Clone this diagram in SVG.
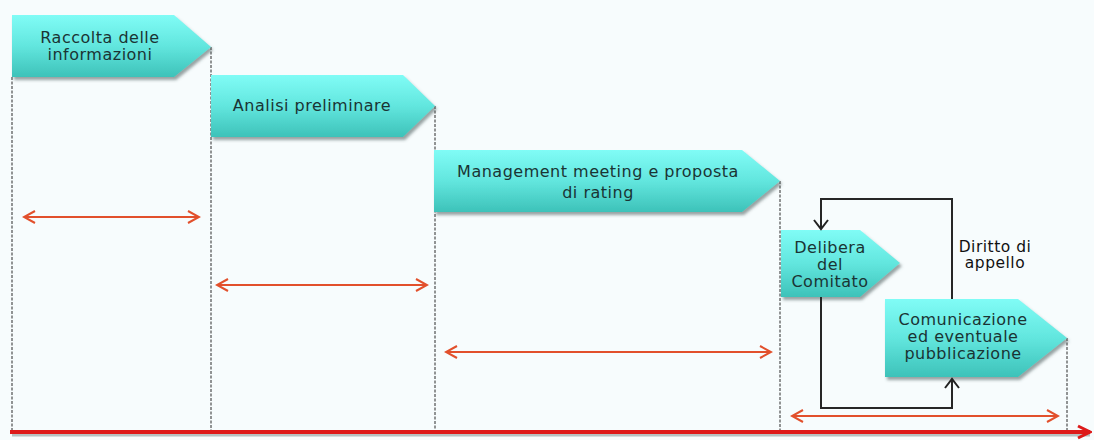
<svg xmlns="http://www.w3.org/2000/svg" width="1094" height="440" viewBox="0 0 1094 440">
<defs>
<linearGradient id="tq" x1="0" y1="0" x2="0" y2="1">
<stop offset="0" stop-color="#80fcf6"/>
<stop offset="0.5" stop-color="#62e6de"/>
<stop offset="1" stop-color="#3dc2b9"/>
</linearGradient>
<filter id="sh" x="-5%" y="-10%" width="115%" height="130%">
<feDropShadow dx="2" dy="3" stdDeviation="1.5" flood-color="#4a5a5a" flood-opacity="0.55"/>
</filter>
<marker id="ra" viewBox="0 0 14 14" refX="12" refY="7" markerWidth="14" markerHeight="14" markerUnits="userSpaceOnUse" orient="auto-start-reverse">
<path d="M1 1 L12 7 L1 13" fill="none" stroke="#e2502c" stroke-width="2"/>
</marker>
<marker id="ka" viewBox="0 0 12 16" refX="10" refY="8" markerWidth="12" markerHeight="16" markerUnits="userSpaceOnUse" orient="auto">
<path d="M1 1 L10 8 L1 15" fill="none" stroke="#222" stroke-width="2"/>
</marker>
<marker id="ax" viewBox="0 0 16 16" refX="14" refY="8" markerWidth="16" markerHeight="16" markerUnits="userSpaceOnUse" orient="auto">
<path d="M2 2 L14 8 L2 14" fill="none" stroke="#dd1a1a" stroke-width="3"/>
</marker>
</defs>
<style>
.box{fill:url(#tq);filter:url(#sh)}
.t{font-family:"DejaVu Sans",Verdana,sans-serif;font-size:16px;fill:#1a3434;text-anchor:middle;letter-spacing:0.5px}
.lbl{font-family:"DejaVu Sans",Verdana,sans-serif;font-size:15.5px;fill:#111;text-anchor:middle;letter-spacing:0.5px}
.dash{stroke:#2a2a2a;stroke-width:1;stroke-dasharray:3 1.5;fill:none}
.span{stroke:#e2502c;stroke-width:2;fill:none;marker-start:url(#ra);marker-end:url(#ra)}
.loop{stroke:#262626;stroke-width:2;fill:none;marker-end:url(#ka)}
</style>
<rect width="1094" height="440" fill="#f7fcfd"/>

<g id="guides">
<line class="dash" x1="12" y1="77" x2="12" y2="432"/>
<line class="dash" x1="211" y1="47" x2="211" y2="432"/>
<line class="dash" x1="435" y1="106" x2="435" y2="432"/>
<line class="dash" x1="780" y1="181" x2="780" y2="432"/>
<line class="dash" x1="1067" y1="338" x2="1067" y2="432"/>
</g>

<g id="axis">
<line x1="12" y1="435" x2="1090" y2="435" stroke="#8a9a9a" stroke-width="3" opacity="0.6"/>
<line x1="10" y1="432" x2="1090" y2="432" stroke="#dd1a1a" stroke-width="4" marker-end="url(#ax)"/>
</g>

<g id="node-raccolta">
<path class="box" d="M12 15 H174 L211 47 L174 77 H12 Z"/>
<text class="t" x="100" y="43">Raccolta delle</text>
<text class="t" x="100" y="60">informazioni</text>
</g>

<g id="node-analisi">
<path class="box" d="M211 75 H403 L435 106 L403 137 H211 Z"/>
<text class="t" x="312" y="111">Analisi preliminare</text>
</g>

<g id="node-management">
<path class="box" d="M434 150 H742 L780 181 L742 212 H434 Z"/>
<text class="t" x="598" y="177">Management meeting e proposta</text>
<text class="t" x="598" y="198">di rating</text>
</g>

<g id="node-delibera">
<path class="box" d="M781 230 H860 L900 263 L860 297 H781 Z"/>
<text class="t" x="830" y="253">Delibera</text>
<text class="t" x="830" y="270">del</text>
<text class="t" x="830" y="287">Comitato</text>
</g>

<g id="node-comunicazione">
<path class="box" d="M885 299 H1018 L1067 338 L1018 377 H885 Z"/>
<text class="t" x="963" y="325">Comunicazione</text>
<text class="t" x="963" y="342">ed eventuale</text>
<text class="t" x="963" y="359">pubblicazione</text>
</g>

<g id="connectors">
<line class="span" x1="24" y1="217" x2="199" y2="217"/>
<line class="span" x1="217" y1="285" x2="427" y2="285"/>
<line class="span" x1="446" y1="352" x2="771" y2="352"/>
<line class="span" x1="792" y1="416" x2="1058" y2="416"/>
<path class="loop" d="M952 299 V199 H821 V229"/>
<path class="loop" d="M821 297 V408 H952 V379"/>
<text class="lbl" x="995" y="252">Diritto di</text>
<text class="lbl" x="995" y="268">appello</text>
</g>
</svg>
